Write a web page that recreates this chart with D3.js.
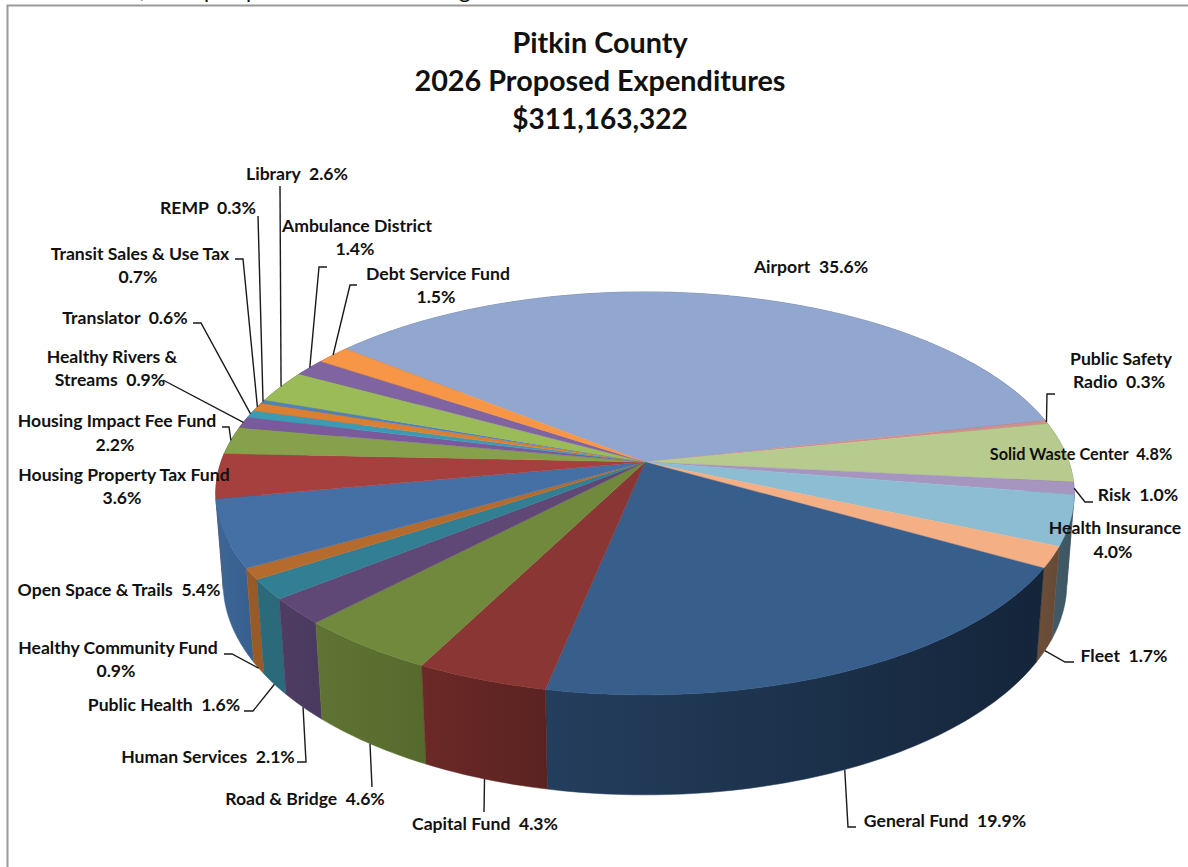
<!DOCTYPE html>
<html><head><meta charset="utf-8">
<script src="https://d3js.org/d3.v7.min.js"></script>
<style>html,body{margin:0;padding:0;background:#fff}svg{display:block}
text{font-family:Lato,"Open Sans",sans-serif;font-weight:700;fill:#111}</style>
</head><body><svg id="c" width="1188" height="867"></svg>
<script>
const categories=["Airport","Public Safety Radio","Solid Waste Center","Risk","Health Insurance","Fleet","General Fund","Capital Fund","Road & Bridge","Human Services","Public Health","Healthy Community Fund","Open Space & Trails","Housing Property Tax Fund","Housing Impact Fee Fund","Healthy Rivers & Streams","Translator","Transit Sales & Use Tax","REMP","Library","Ambulance District","Debt Service Fund"];
const values=[35.6,0.3,4.8,1.0,4.0,1.7,19.9,4.3,4.6,2.1,1.6,0.9,5.4,3.6,2.2,0.9,0.6,0.7,0.3,2.6,1.4,1.5];
const topColors=["#91A7CF","#D08E8C","#B8CB8E","#A695BF","#8CBDD3","#F5AF85","#385E8C","#8A3634","#70893D","#5F4875","#327F93","#B56B2E","#4470A5","#A5403E","#86A04B","#7A5A9C","#3D9AB5","#DB7F33","#4F81BD","#9BBB59","#8064A2","#F79646"];
const wallLeft=["#5a6a85","#805655","#727e58","#675c77","#3F5A66","#6B4D38","#243E5D","#6B2927","#5F7434","#4F3C63","#2B6A7A","#985A26","#3E6695","#6b2a29","#55662f","#4d3962","#256072","#8a5020","#324f75","#627538","#504066","#9a5e2c"];
const wallRight=["#5a6a85","#805655","#727e58","#675c77","#3D5560","#664A36","#14253A","#5A2321","#566A2D","#4A3A60","#2B6A7A","#985A26","#386090","#6b2a29","#55662f","#4d3962","#256072","#8a5020","#324f75","#627538","#504066","#9a5e2c"];
const titleLines=["Pitkin County","2026 Proposed Expenditures","$311,163,322"];

// label layout: text lines (centre x, baseline y, optional size) and leader elbow, one row per slice
const labelLayout=[
 {l:[["Airport  35.6%",811,273]]},
 {l:[["Public Safety",1121,365],["Radio  0.3%",1119,388]],e:[[1047,394],[1055,394]]},
 {l:[["Solid Waste Center  4.8%",1081,460,16.3]]},
 {l:[["Risk  1.0%",1138,501]],e:[[1085,502],[1093,502]]},
 {l:[["Health Insurance",1115,534],["4.0%",1113,558]]},
 {l:[["Fleet  1.7%",1124,662]],e:[[1065,662],[1074,662]],base:true},
 {l:[["General Fund  19.9%",945,827]],e:[[848,827],[856,827]],base:true},
 {l:[["Capital Fund  4.3%",485,830]],e:[[484,812]],base:true},
 {l:[["Road & Bridge  4.6%",305,805]],e:[[372,787]],base:true},
 {l:[["Human Services  2.1%",208,763]],e:[[306,762],[297,762]],base:true},
 {l:[["Public Health  1.6%",164,711]],e:[[253,711],[244,711]],base:true},
 {l:[["Healthy Community Fund",118,654],["0.9%",116,677]],e:[[232,654],[224,654]],base:true},
 {l:[["Open Space & Trails  5.4%",119,596]]},
 {l:[["Housing Property Tax Fund",124,481],["3.6%",122,504]]},
 {l:[["Housing Impact Fee Fund",117,427],["2.2%",115,451]],e:[[229,427],[222,427]]},
 {l:[["Healthy Rivers &",112,363],["Streams  0.9%",110,386]],e:[[163,380]]},
 {l:[["Translator  0.6%",125,324]],e:[[201,323],[193,323]]},
 {l:[["Transit Sales & Use Tax",140,260],["0.7%",138,283]],e:[[243,259],[235,259]]},
 {l:[["REMP  0.3%",208,214]],e:[[258,216]]},
 {l:[["Library  2.6%",297,180]],e:[[280,186]]},
 {l:[["Ambulance District",357,232],["1.4%",355,255]],e:[[319,267],[327,267]]},
 {l:[["Debt Service Fund",438,280],["1.5%",436,303]],e:[[350,285],[357,285]]}
];

const svg=d3.select("#c");
// page frame
svg.append("path").attr("d","M7.5 867V5.5H1188").attr("fill","none").attr("stroke","#9a9a9a").attr("stroke-width",2);
// clipped line of the page text above the frame
const clip=svg.append("clipPath").attr("id","topclip");
clip.append("rect").attr("x",0).attr("y",0).attr("width",1188).attr("height",4);
svg.append("g").attr("clip-path","url(#topclip)").selectAll("text")
 .data([[",",140],["p",204],["p",246],["g",459]]).join("text")
 .attr("x",d=>d[1]).attr("y",-2).attr("font-size",22).style("font-weight",400)
 .text(d=>d[0]);

// perspective projection of a tilted disc
const P={cx:645,cy:462,rx:424,ry:196.6,k:0.156,h:90,d:0.017};
function project(a,base){
 const u=Math.sin(a),v=-Math.cos(a),w=1-P.k*v+(base?P.d:0);
 return [P.cx+P.rx*u/w,P.cy+(P.ry*v+(base?P.h:0))/w];
}
const firstAngle=-50.8;
const pie=d3.pie().value(d=>d).sort(null).startAngle(firstAngle*Math.PI/180).endAngle((360+firstAngle)*Math.PI/180);
const arcs=pie(values);
const line=d3.line();
const step=Math.PI/180;
const rim=(a0,a1,base)=>{
 const n=Math.max(2,Math.ceil((a1-a0)/step));
 return d3.range(n+1).map(i=>project(a0+(a1-a0)*i/n,base));
};

const defs=svg.append("defs");
const order=d3.range(arcs.length).sort((p,q)=>
 -Math.cos((arcs[p].startAngle+arcs[p].endAngle)/2)+Math.cos((arcs[q].startAngle+arcs[q].endAngle)/2));
// outer walls, back to front
order.forEach(i=>{
 const a=arcs[i];
 const t=rim(a.startAngle,a.endAngle,false),b=rim(a.startAngle,a.endAngle,true).reverse();
 const xs=d3.extent(t,d=>d[0]);
 const g=defs.append("linearGradient").attr("id","w"+i).attr("gradientUnits","userSpaceOnUse")
  .attr("x1",xs[0]).attr("x2",xs[1]).attr("y1",0).attr("y2",0);
 g.append("stop").attr("offset",0).attr("stop-color",wallLeft[i]);
 g.append("stop").attr("offset",1).attr("stop-color",wallRight[i]);
 svg.append("path").attr("d",line(t.concat(b))+"Z").attr("fill",`url(#w${i})`)
  .attr("stroke",`url(#w${i})`).attr("stroke-width",.5);
});
// top faces
svg.append("g").selectAll("path").data(arcs).join("path")
 .attr("d",a=>line([[P.cx,P.cy]].concat(rim(a.startAngle,a.endAngle,false)))+"Z")
 .attr("fill",(a,i)=>topColors[i]).attr("stroke",(a,i)=>topColors[i]).attr("stroke-width",.4)
 .append("title").text((a,i)=>categories[i]);

// leaders
arcs.forEach((a,i)=>{
 const L=labelLayout[i];
 if(!L.e) return;
 const s=project((a.startAngle+a.endAngle)/2,!!L.base);
 svg.append("path").attr("d",line([s].concat(L.e))).attr("fill","none").attr("stroke","#1a1a1a").attr("stroke-width",1.4);
});
// labels
labelLayout.forEach(L=>L.l.forEach(r=>{
 svg.append("text").attr("x",r[1]).attr("y",r[2]).attr("text-anchor","middle").attr("font-size",r[3]||17.6).style("white-space","pre").text(r[0]);
}));
// title
svg.append("g").selectAll("text").data(titleLines).join("text")
 .attr("x",600).attr("y",(d,i)=>53+i*38).attr("text-anchor","middle").attr("font-size",(d,i)=>i==2?28:28.8).text(d=>d);
</script></body></html>
